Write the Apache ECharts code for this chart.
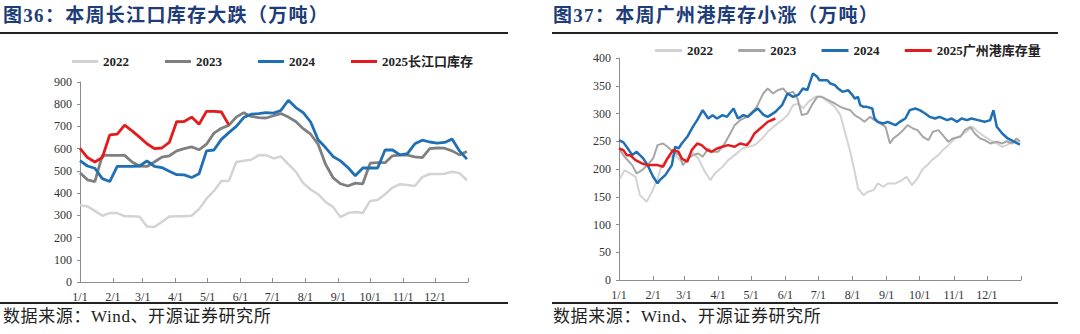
<!DOCTYPE html>
<html>
<head>
<meta charset="utf-8">
<script src="https://cdn.jsdelivr.net/npm/echarts@6/dist/echarts.min.js"></script>
<style>
  html, body { margin: 0; padding: 0; background: #fff; }
  #wrap { position: relative; width: 1080px; height: 334px; overflow: hidden; }
  #chart { position: absolute; left: 0; top: 0; width: 1080px; height: 334px; }
  .ttl { position: absolute; top: 6px; height: 20px; line-height: 20px; font-size: 19px; font-weight: bold;
         color: #1d3c78; letter-spacing: 1.3px; white-space: nowrap;
         font-family: "Liberation Serif", "Noto Sans CJK SC", serif; }
  .src { position: absolute; top: 307px; height: 20px; line-height: 20px; font-size: 17px; color: #222;
         letter-spacing: 0.6px; white-space: nowrap; font-family: "Liberation Serif", "Noto Sans CJK SC", serif; }
  .rule { position: absolute; height: 2px; background: #222; }
</style>
</head>
<body>
<div id="wrap">
  <div id="chart"></div>
  <div class="ttl" style="left:3px">图36：本周长江口库存大跌（万吨）</div>
  <div class="ttl" style="left:553px">图37：本周广州港库存小涨（万吨）</div>
  <div class="rule" style="left:0;top:32px;width:508px"></div>
  <div class="rule" style="left:552px;top:32px;width:506px"></div>
  <div class="rule" style="left:0;top:302px;width:508px"></div>
  <div class="rule" style="left:552px;top:302px;width:506px"></div>
  <div class="src" style="left:3px">数据来源：Wind、开源证券研究所</div>
  <div class="src" style="left:553px">数据来源：Wind、开源证券研究所</div>
</div>
<script>
// ---------- shared x axis: days of year ----------
const monthStartDays = [0, 31, 59, 90, 120, 151, 181, 212, 243, 273, 304, 334];
const monthLabels = ['1/1','2/1','3/1','4/1','5/1','6/1','7/1','8/1','9/1','10/1','11/1','12/1'];

// ---------- Left chart: 长江口库存 (weekly, 万吨) ----------
const cjSeriesNames = ['2022', '2023', '2024', '2025长江口库存'];
const cj2022 = [346,340,320,298,310,310,296,296,294,250,248,270,295,296,296,298,328,375,410,455,455,540,546,550,570,571,556,565,530,497,445,416,395,360,338,292,310,315,310,365,369,395,425,440,436,432,472,486,486,487,496,490,458];
const cj2023 = [492,460,452,570,570,570,570,540,522,520,540,562,568,590,600,608,595,620,670,692,705,742,762,745,740,738,748,758,742,722,690,665,620,530,470,442,432,445,442,535,537,537,568,571,571,563,560,600,603,602,590,572,587];
const cj2024 = [546,522,512,465,452,520,520,520,522,545,520,515,498,483,482,470,487,590,594,642,672,700,740,755,758,762,760,772,818,785,762,720,640,605,565,545,515,478,513,513,513,594,594,572,578,622,638,630,625,628,643,590,553];
const cj2025 = [601,560,540,560,662,665,706,680,652,622,600,603,628,722,722,742,710,768,768,765,707];
const cjYTicks = { min: 0, max: 900, interval: 100 };

// ---------- Right chart: 广州港库存 ([day of year, 万吨]) ----------
const gzSeriesNames = ['2022', '2023', '2024', '2025广州港库存量'];
const gz2022 = [[1,183],[5,198],[10,192],[15,186],[19,153],[25,141],[30,159],[35,183],[39,207],[44,219],[51,225],[57,213],[62,219],[66,231],[72,219],[78,195],[83,180],[87,192],[94,204],[99,216],[105,225],[112,237],[117,240],[123,243],[130,255],[135,267],[142,279],[148,288],[153,297],[158,315],[163,318],[167,309],[172,321],[178,330],[184,330],[192,318],[196,312],[201,297],[205,267],[210,231],[214,195],[217,165],[222,153],[226,159],[231,162],[235,174],[240,168],[244,174],[251,174],[257,180],[261,186],[266,171],[271,183],[275,198],[280,207],[284,216],[290,225],[294,234],[299,243],[305,255],[311,261],[317,270],[321,276],[326,267],[330,261],[337,252],[343,246],[348,240],[352,243],[357,249],[361,250],[364,252]];
const gz2023 = [[1,234],[5,222],[12,207],[16,192],[21,198],[26,207],[31,219],[35,243],[40,246],[44,240],[49,231],[55,225],[58,207],[63,219],[67,225],[72,228],[76,222],[81,237],[85,231],[90,231],[96,246],[101,264],[105,279],[110,288],[116,294],[121,303],[125,312],[128,324],[131,336],[135,345],[140,336],[144,342],[149,345],[153,336],[158,339],[162,327],[166,297],[171,300],[175,315],[180,330],[184,330],[190,324],[196,318],[201,312],[205,309],[210,306],[214,297],[219,291],[223,285],[228,294],[232,288],[237,282],[242,276],[246,246],[249,255],[253,261],[258,270],[262,279],[267,273],[271,270],[276,258],[281,252],[285,267],[290,270],[294,261],[299,249],[303,255],[310,258],[314,270],[319,276],[323,264],[328,255],[332,252],[337,246],[343,249],[348,246],[352,250],[357,246],[361,255],[364,249]];
const gz2024 = [[0,252],[4,248],[8,237],[12,225],[16,231],[19,225],[22,219],[26,207],[31,186],[35,174],[37,180],[42,189],[48,207],[51,240],[54,237],[57,246],[62,258],[67,276],[71,288],[76,306],[81,291],[85,297],[89,291],[94,297],[98,294],[104,309],[108,291],[113,297],[117,294],[122,303],[126,309],[131,298],[135,294],[142,303],[148,315],[153,336],[158,330],[163,334],[167,345],[171,342],[176,372],[180,366],[182,360],[189,360],[192,354],[196,351],[199,345],[203,339],[208,342],[212,333],[214,327],[217,330],[219,315],[222,312],[225,312],[230,309],[232,291],[235,285],[240,282],[244,285],[251,279],[255,285],[260,291],[264,306],[269,309],[273,306],[278,300],[282,294],[287,291],[291,294],[298,288],[302,291],[307,285],[311,291],[316,288],[320,291],[326,288],[332,285],[337,288],[340,306],[343,276],[348,264],[353,255],[360,248],[364,244]];
const gz2025 = [[0,237],[4,234],[7,225],[10,225],[15,216],[21,210],[26,207],[35,207],[40,204],[44,219],[49,234],[54,231],[57,219],[62,213],[66,234],[71,246],[75,243],[80,234],[84,231],[89,237],[94,240],[99,243],[105,240],[110,246],[116,243],[119,250],[123,264],[130,276],[135,285],[142,291]];
const gzYTicks = { min: 0, max: 400, interval: 50 };

// ---------- build ----------
const dayCats = [];
for (let d = 0; d <= 365; d++) {
  const k = monthStartDays.indexOf(d);
  dayCats.push(k >= 0 ? monthLabels[k] : (d === 365 ? '' : 'd' + d));
}
const isTickDay = (i) => monthStartDays.indexOf(i) >= 0 || i === 365;
const isLabelDay = (i) => monthStartDays.indexOf(i) >= 0;

const weekly = (arr) => arr.map((v, i) => [i * 7, v]);

const axisFont = { fontFamily: 'Liberation Serif', fontSize: 12, color: '#333' };
const axisLineColor = '#8c8c8c';

function xAxisFor(gi) {
  return {
    type: 'category', gridIndex: gi, data: dayCats, boundaryGap: false,
    axisLine: { lineStyle: { color: axisLineColor, width: 1 } },
    axisTick: { inside: true, length: 4, interval: (i) => isTickDay(i), lineStyle: { color: axisLineColor } },
    axisLabel: Object.assign({ interval: (i) => isLabelDay(i), margin: 9 }, axisFont),
    splitLine: { show: false }
  };
}
function yAxisFor(gi, t) {
  return {
    type: 'value', gridIndex: gi, min: t.min, max: t.max, interval: t.interval,
    axisLine: { show: true, lineStyle: { color: axisLineColor, width: 1 } },
    axisTick: { show: true, length: 3, lineStyle: { color: axisLineColor } },
    axisLabel: Object.assign({ margin: 8 }, axisFont),
    splitLine: { show: false }
  };
}
function lineSeries(name, data, color, width, gi, z) {
  return {
    name, type: 'line', xAxisIndex: gi, yAxisIndex: gi, data,
    showSymbol: false, symbol: 'none', smooth: false, z,
    lineStyle: { color, width }, itemStyle: { color }, emphasis: { disabled: true }
  };
}
const cLight = '#d3d3d3', cGrayL = '#7f7f7f', cGrayR = '#a6a6a6', cBlue = '#1f6fb5', cRed = '#e41a1c';
const legendText = { fontFamily: 'Liberation Serif, Noto Sans CJK SC', fontSize: 13, fontWeight: 'bold', color: '#222' };

const option = {
  animation: false,
  backgroundColor: '#fff',
  grid: [
    { left: 80, top: 82, width: 388, height: 200 },
    { left: 619, top: 58, width: 402, height: 222 }
  ],
  legend: [
    { left: 67, top: 50, icon: 'rect', itemWidth: 26, itemHeight: 3, itemGap: 36, textStyle: legendText,
      data: cjSeriesNames.map(n => ({ name: n })), selectedMode: false },
    { left: 650, top: 39, icon: 'rect', itemWidth: 27, itemHeight: 3, itemGap: 22, textStyle: legendText,
      data: gzSeriesNames.map(n => ({ name: n + ' ' })), selectedMode: false }
  ],
  xAxis: [xAxisFor(0), xAxisFor(1)],
  yAxis: [yAxisFor(0, cjYTicks), yAxisFor(1, gzYTicks)],
  series: [
    lineSeries(cjSeriesNames[0], weekly(cj2022), cLight, 2.5, 0, 1),
    lineSeries(cjSeriesNames[1], weekly(cj2023), cGrayL, 2.8, 0, 2),
    lineSeries(cjSeriesNames[2], weekly(cj2024), cBlue, 2.8, 0, 3),
    lineSeries(cjSeriesNames[3], weekly(cj2025), cRed, 2.8, 0, 4),
    lineSeries(gzSeriesNames[0] + ' ', gz2022, cLight, 2, 1, 1),
    lineSeries(gzSeriesNames[1] + ' ', gz2023, cGrayR, 2, 1, 2),
    lineSeries(gzSeriesNames[2] + ' ', gz2024, cBlue, 2.5, 1, 3),
    lineSeries(gzSeriesNames[3] + ' ', gz2025, cRed, 2.5, 1, 4)
  ]
};
const chart = echarts.init(document.getElementById('chart'), null, { renderer: 'svg' });
chart.setOption(option);
</script>
</body>
</html>
